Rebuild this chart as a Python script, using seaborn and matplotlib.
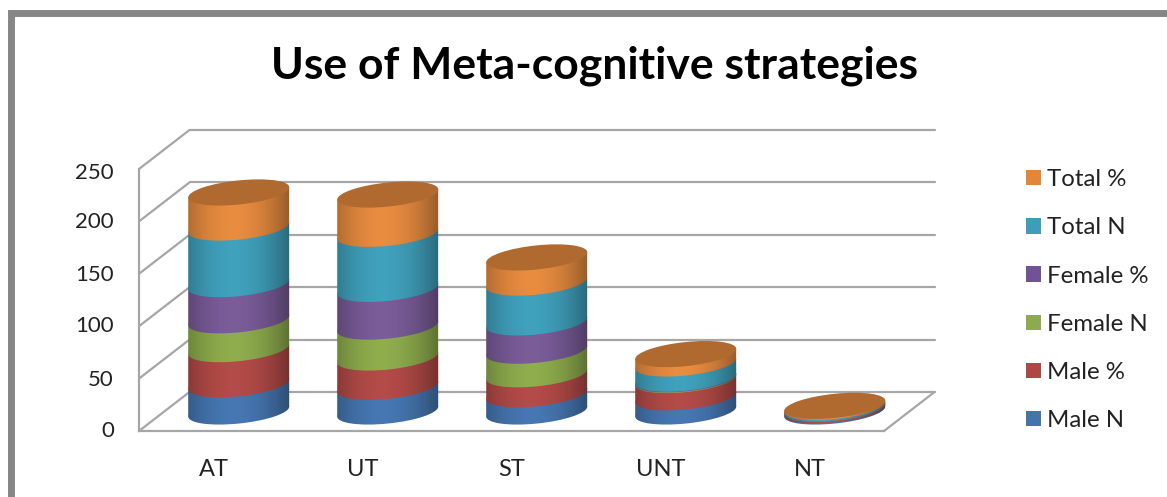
import numpy as np
import pandas as pd
import matplotlib
matplotlib.use('Agg')
import matplotlib.pyplot as plt
import seaborn as sns
from matplotlib.patches import Ellipse, Rectangle
from matplotlib.path import Path
from matplotlib.transforms import Affine2D

categories = ['AT', 'UT', 'ST', 'UNT', 'NT']
male_n = [26, 23.5, 16.5, 13.5, 1.2]
male_pct = [33.5, 28, 19, 16.5, 1.4]
female_n = [27.5, 29.5, 22.5, 0.6, 0.3]
female_pct = [34.5, 36, 27, 0.7, 0.3]
total_n = [54, 52.5, 38, 14.5, 1.2]
total_pct = [33.5, 37.5, 24, 9, 1]

series_names = ['Male N', 'Male %', 'Female N', 'Female %', 'Total N', 'Total %']
series_vals = [male_n, male_pct, female_n, female_pct, total_n, total_pct]
colors = ['#4677B2', '#B34B48', '#8FAD4D', '#7A5C99', '#40A1BD', '#E88C40']
legend_colors = ['#4474AC', '#AF4744', '#8DAA4C', '#6F5396', '#3E9DB8', '#E1873A']
cap_color = '#B0692E'
wall_color = '#A6A6A6'

W, H = 1167, 497

sns.set_theme(style='white')
plt.rcParams['font.family'] = ['Lato', 'DejaVu Sans']

fig = plt.figure(figsize=(W / 100, H / 100), dpi=100, facecolor='white')


def plane(dx, dy, z):
    # front plane is 139..884 px wide, 0 at y=431 and 250 at y=169
    a = fig.add_axes([(139 + dx) / W, (H - 431 + dy) / H, 745 / W, 262 / H], zorder=z)
    a.patch.set_alpha(0)
    a.set_xlim(-0.5, 4.5)
    a.set_ylim(0, 250)
    return a


depth_x, depth_y = 50.5, 39
ax_back = plane(depth_x, depth_y, 1)
ax_front = plane(0, 0, 2)
ax = plane(depth_x / 2, depth_y / 2, 3)

# back wall, gridlines only
ax_back.set_yticks(range(0, 251, 50))
ax_back.set_xticks([])
ax_back.set_yticklabels([])
ax_back.tick_params(length=0)
ax_back.grid(axis='y', color=wall_color, lw=1.6)
for s in ax_back.spines.values():
    s.set_visible(False)
for gl in ax_back.get_ygridlines():
    gl.set_clip_on(False)

# front: ticks and labels
ax_front.set_xticks(range(5))
ax_front.set_xticklabels(categories, fontsize=17, color='#222222')
ax_front.set_yticks(range(0, 251, 50))
ax_front.tick_params(axis='y', length=0, pad=18, labelsize=16, labelcolor='#222222')
ax_front.tick_params(axis='x', length=0, pad=20)
for s in ['top', 'right']:
    ax_front.spines[s].set_visible(False)
for s in ['left', 'bottom']:
    ax_front.spines[s].set_color(wall_color)
    ax_front.spines[s].set_linewidth(1.6)

# small nudges so the labels sit where the reference has them
for lab, nudge in zip(ax_front.get_yticklabels(), [2, 1, 2, 1, 1, -2]):
    lab.set_transform(lab.get_transform() + Affine2D().translate(0, nudge))

# side wall and floor diagonals
dx_cat = depth_x / 149
dy_val = depth_y / (262 / 250)
for v in range(0, 251, 50):
    ax_front.plot([-0.5, -0.5 + dx_cat], [v, v + dy_val], color=wall_color, lw=1.6, clip_on=False)
ax_front.plot([4.5, 4.5 + dx_cat], [0, dy_val], color=wall_color, lw=1.6, clip_on=False)

# cylinders
bar_w = 101 / 149
ell_h = 23
shear = 0.1
bottoms = np.zeros(len(categories))
for j, (name, vals) in enumerate(zip(series_names, series_vals)):
    sns.barplot(x=categories, y=vals, bottom=bottoms, color=colors[j], saturation=1,
                width=bar_w, linewidth=0, ax=ax, zorder=2 + j)
    for i in range(len(categories)):
        e = Ellipse((i, bottoms[i]), bar_w, ell_h, facecolor=colors[j], edgecolor='none', zorder=2 + j)
        ax.add_patch(e)
    bottoms = bottoms + np.array(vals)

fig.canvas.draw()


def sheared(i):
    # tilt of the whole cylinder, right side higher, done in pixels
    xc = ax.transData.transform((i, 0))[0]
    m = Affine2D(np.array([[1, 0, 0], [shear, 1, -shear * xc], [0, 0, 1]], dtype=float))
    return ax.transData + m


n_cat = len(categories)
for c in ax.containers:
    for i, b in enumerate(c):
        b.set_transform(sheared(i))
for p in ax.patches:
    if isinstance(p, Ellipse):
        p.set_transform(sheared(int(round(p.center[0]))))

# side shading of each cylinder
u = np.linspace(0, 1, 200)
shade = np.zeros((1, 200, 4))
shade[0, :, 3] = 0.34 * (np.abs(u - 0.45) / 0.55) ** 1.9
t = np.linspace(0, np.pi, 60)
for i in range(n_cat):
    top = bottoms[i]
    low_x = i - np.cos(t) * bar_w / 2
    low_y = -np.sin(t) * ell_h / 2
    up_x = i + np.cos(t) * bar_w / 2
    up_y = top + np.sin(t) * ell_h / 2
    verts = np.column_stack([np.r_[low_x, up_x], np.r_[low_y, up_y]])
    im = ax.imshow(shade, extent=(i - bar_w / 2, i + bar_w / 2, -30, top + 30), aspect='auto', zorder=20)
    im.set_clip_box(fig.bbox)
    im.set_clip_path(Path(verts), sheared(i))
    cap = Ellipse((i, top), bar_w, ell_h, facecolor=cap_color, edgecolor='none', zorder=30)
    ax.add_patch(cap)
    cap.set_transform(sheared(i))

ax.set_xlim(-0.5, 4.5)
ax.set_ylim(0, 250)
ax.axis('off')

for p in ax.patches:
    p.set_clip_on(False)

# legend, top entry first
handles = [Rectangle((0, 0), 1, 1, facecolor=c, edgecolor='none') for c in legend_colors[::-1]]
leg = fig.legend(handles, series_names[::-1], loc='upper left', bbox_to_anchor=(1007 / W, 1 - 150 / H),
                 frameon=False, fontsize=17.3, handlelength=0.6, handleheight=0.6,
                 handletextpad=0.27, labelspacing=1.13, labelcolor='#222222', borderpad=0.3)

fig.text(594.5 / W, 1 - 66 / H, 'Use of Meta-cognitive strategies', ha='center', va='center',
         fontsize=32, fontweight='bold', color='black')

# outer frame of the picture, runs off right and bottom
fig.add_artist(Rectangle((10.5 / W, -0.1), 1.2, 1.1 - 12.5 / H, transform=fig.transFigure, fill=False,
                         edgecolor='#868686', linewidth=5))

fig.savefig('out.png', dpi=100)
